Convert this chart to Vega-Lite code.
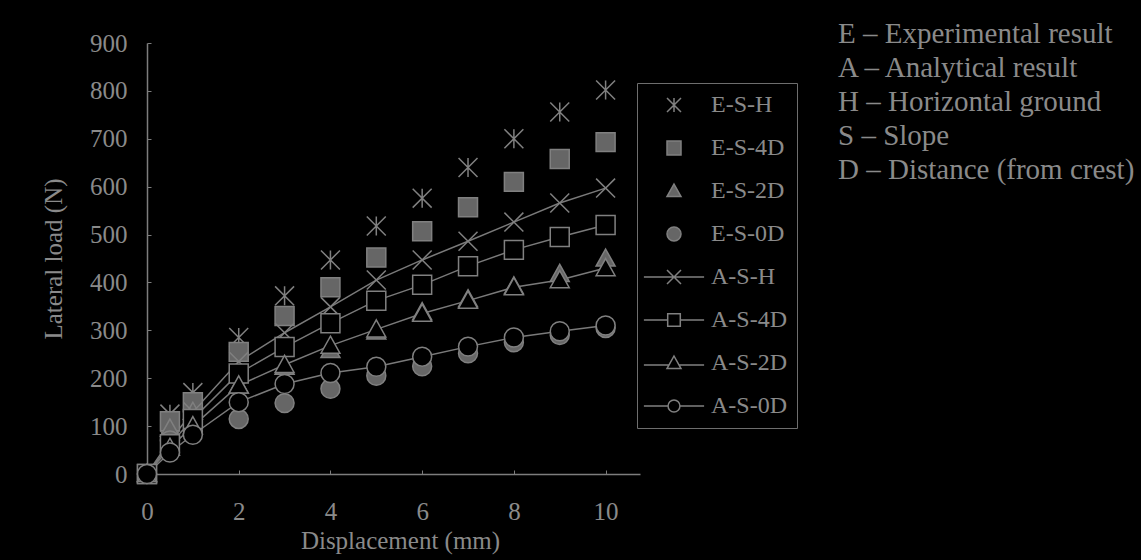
{
  "$schema": "https://vega.github.io/schema/vega-lite/v6.json",
  "autosize": "none",
  "padding": {"left": 147, "top": 43, "right": 501, "bottom": 86},
  "width": 493,
  "height": 431,
  "background": "black",
  "config": {
    "view": {"stroke": null},
    "font": "Liberation Serif",
    "legend": {
      "symbolOpacity": 1,
      "labelFont": "Liberation Serif",
      "labelFontSize": 24,
      "labelColor": "#8a8a8a",
      "symbolSize": 196,
      "symbolStrokeWidth": 1.5,
      "strokeColor": "#6e6e6e",
      "padding": 10,
      "rowPadding": 19,
      "symbolOffset": 15,
      "labelOffset": 25
    }
  },
  "title": {
    "text": [
      "E – Experimental result",
      "A – Analytical result",
      "H – Horizontal ground",
      "S – Slope",
      "D – Distance (from crest)"
    ],
    "orient": "top",
    "anchor": "start",
    "frame": "group",
    "align": "left",
    "baseline": "top",
    "offset": 0,
    "dx": 691,
    "dy": 154,
    "lineHeight": 34,
    "font": "Liberation Serif",
    "fontSize": 29,
    "fontWeight": "normal",
    "color": "#8a8a8a"
  },
  "data": {
    "values": [
      {"series": "E-S-H", "kind": "Experimental", "x": 0, "y": 0},
      {"series": "E-S-H", "kind": "Experimental", "x": 0.5, "y": 125},
      {"series": "E-S-H", "kind": "Experimental", "x": 1, "y": 170},
      {"series": "E-S-H", "kind": "Experimental", "x": 2, "y": 285},
      {"series": "E-S-H", "kind": "Experimental", "x": 3, "y": 372},
      {"series": "E-S-H", "kind": "Experimental", "x": 4, "y": 447},
      {"series": "E-S-H", "kind": "Experimental", "x": 5, "y": 518},
      {"series": "E-S-H", "kind": "Experimental", "x": 6, "y": 576},
      {"series": "E-S-H", "kind": "Experimental", "x": 7, "y": 640},
      {"series": "E-S-H", "kind": "Experimental", "x": 8, "y": 700},
      {"series": "E-S-H", "kind": "Experimental", "x": 9, "y": 756},
      {"series": "E-S-H", "kind": "Experimental", "x": 10, "y": 802},

      {"series": "E-S-4D", "kind": "Experimental", "x": 0, "y": 0},
      {"series": "E-S-4D", "kind": "Experimental", "x": 0.5, "y": 110},
      {"series": "E-S-4D", "kind": "Experimental", "x": 1, "y": 150},
      {"series": "E-S-4D", "kind": "Experimental", "x": 2, "y": 255},
      {"series": "E-S-4D", "kind": "Experimental", "x": 3, "y": 330},
      {"series": "E-S-4D", "kind": "Experimental", "x": 4, "y": 390},
      {"series": "E-S-4D", "kind": "Experimental", "x": 5, "y": 452},
      {"series": "E-S-4D", "kind": "Experimental", "x": 6, "y": 507},
      {"series": "E-S-4D", "kind": "Experimental", "x": 7, "y": 557},
      {"series": "E-S-4D", "kind": "Experimental", "x": 8, "y": 610},
      {"series": "E-S-4D", "kind": "Experimental", "x": 9, "y": 658},
      {"series": "E-S-4D", "kind": "Experimental", "x": 10, "y": 693},

      {"series": "E-S-2D", "kind": "Experimental", "x": 0, "y": 0},
      {"series": "E-S-2D", "kind": "Experimental", "x": 0.5, "y": 95},
      {"series": "E-S-2D", "kind": "Experimental", "x": 1, "y": 130},
      {"series": "E-S-2D", "kind": "Experimental", "x": 2, "y": 185},
      {"series": "E-S-2D", "kind": "Experimental", "x": 3, "y": 224},
      {"series": "E-S-2D", "kind": "Experimental", "x": 4, "y": 259},
      {"series": "E-S-2D", "kind": "Experimental", "x": 5, "y": 298},
      {"series": "E-S-2D", "kind": "Experimental", "x": 6, "y": 338},
      {"series": "E-S-2D", "kind": "Experimental", "x": 7, "y": 365},
      {"series": "E-S-2D", "kind": "Experimental", "x": 8, "y": 392},
      {"series": "E-S-2D", "kind": "Experimental", "x": 9, "y": 418},
      {"series": "E-S-2D", "kind": "Experimental", "x": 10, "y": 450},

      {"series": "E-S-0D", "kind": "Experimental", "x": 0, "y": 0},
      {"series": "E-S-0D", "kind": "Experimental", "x": 0.5, "y": 70},
      {"series": "E-S-0D", "kind": "Experimental", "x": 1, "y": 90},
      {"series": "E-S-0D", "kind": "Experimental", "x": 2, "y": 115},
      {"series": "E-S-0D", "kind": "Experimental", "x": 3, "y": 148},
      {"series": "E-S-0D", "kind": "Experimental", "x": 4, "y": 178},
      {"series": "E-S-0D", "kind": "Experimental", "x": 5, "y": 205},
      {"series": "E-S-0D", "kind": "Experimental", "x": 6, "y": 225},
      {"series": "E-S-0D", "kind": "Experimental", "x": 7, "y": 252},
      {"series": "E-S-0D", "kind": "Experimental", "x": 8, "y": 275},
      {"series": "E-S-0D", "kind": "Experimental", "x": 9, "y": 290},
      {"series": "E-S-0D", "kind": "Experimental", "x": 10, "y": 305},

      {"series": "A-S-H", "kind": "Analytical", "x": 0, "y": 0},
      {"series": "A-S-H", "kind": "Analytical", "x": 0.5, "y": 70},
      {"series": "A-S-H", "kind": "Analytical", "x": 1, "y": 130},
      {"series": "A-S-H", "kind": "Analytical", "x": 2, "y": 235},
      {"series": "A-S-H", "kind": "Analytical", "x": 3, "y": 295},
      {"series": "A-S-H", "kind": "Analytical", "x": 4, "y": 349},
      {"series": "A-S-H", "kind": "Analytical", "x": 5, "y": 405},
      {"series": "A-S-H", "kind": "Analytical", "x": 6, "y": 447},
      {"series": "A-S-H", "kind": "Analytical", "x": 7, "y": 486},
      {"series": "A-S-H", "kind": "Analytical", "x": 8, "y": 526},
      {"series": "A-S-H", "kind": "Analytical", "x": 9, "y": 566},
      {"series": "A-S-H", "kind": "Analytical", "x": 10, "y": 597},

      {"series": "A-S-4D", "kind": "Analytical", "x": 0, "y": 0},
      {"series": "A-S-4D", "kind": "Analytical", "x": 0.5, "y": 62},
      {"series": "A-S-4D", "kind": "Analytical", "x": 1, "y": 115},
      {"series": "A-S-4D", "kind": "Analytical", "x": 2, "y": 210},
      {"series": "A-S-4D", "kind": "Analytical", "x": 3, "y": 265},
      {"series": "A-S-4D", "kind": "Analytical", "x": 4, "y": 315},
      {"series": "A-S-4D", "kind": "Analytical", "x": 5, "y": 362},
      {"series": "A-S-4D", "kind": "Analytical", "x": 6, "y": 395},
      {"series": "A-S-4D", "kind": "Analytical", "x": 7, "y": 434},
      {"series": "A-S-4D", "kind": "Analytical", "x": 8, "y": 468},
      {"series": "A-S-4D", "kind": "Analytical", "x": 9, "y": 495},
      {"series": "A-S-4D", "kind": "Analytical", "x": 10, "y": 520},

      {"series": "A-S-2D", "kind": "Analytical", "x": 0, "y": 0},
      {"series": "A-S-2D", "kind": "Analytical", "x": 0.5, "y": 55},
      {"series": "A-S-2D", "kind": "Analytical", "x": 1, "y": 100},
      {"series": "A-S-2D", "kind": "Analytical", "x": 2, "y": 185},
      {"series": "A-S-2D", "kind": "Analytical", "x": 3, "y": 228},
      {"series": "A-S-2D", "kind": "Analytical", "x": 4, "y": 268},
      {"series": "A-S-2D", "kind": "Analytical", "x": 5, "y": 302},
      {"series": "A-S-2D", "kind": "Analytical", "x": 6, "y": 335},
      {"series": "A-S-2D", "kind": "Analytical", "x": 7, "y": 362},
      {"series": "A-S-2D", "kind": "Analytical", "x": 8, "y": 390},
      {"series": "A-S-2D", "kind": "Analytical", "x": 9, "y": 405},
      {"series": "A-S-2D", "kind": "Analytical", "x": 10, "y": 430},

      {"series": "A-S-0D", "kind": "Analytical", "x": 0, "y": 0},
      {"series": "A-S-0D", "kind": "Analytical", "x": 0.5, "y": 45},
      {"series": "A-S-0D", "kind": "Analytical", "x": 1, "y": 82},
      {"series": "A-S-0D", "kind": "Analytical", "x": 2, "y": 150},
      {"series": "A-S-0D", "kind": "Analytical", "x": 3, "y": 188},
      {"series": "A-S-0D", "kind": "Analytical", "x": 4, "y": 211},
      {"series": "A-S-0D", "kind": "Analytical", "x": 5, "y": 224},
      {"series": "A-S-0D", "kind": "Analytical", "x": 6, "y": 245},
      {"series": "A-S-0D", "kind": "Analytical", "x": 7, "y": 266},
      {"series": "A-S-0D", "kind": "Analytical", "x": 8, "y": 285},
      {"series": "A-S-0D", "kind": "Analytical", "x": 9, "y": 298},
      {"series": "A-S-0D", "kind": "Analytical", "x": 10, "y": 310}
    ]
  },
  "encoding": {
    "x": {
      "field": "x",
      "type": "quantitative",
      "scale": {"domain": [0, 10.75], "nice": false, "zero": true},
      "axis": {
        "title": "Displacement (mm)",
        "titleX": 253,
        "values": [0, 2, 4, 6, 8, 10],
        "grid": false,
        "domainColor": "#7d7d7d",
        "domainWidth": 1.5,
        "tickColor": "#7d7d7d",
        "tickSize": -4,
        "labelPadding": 29,
        "labelFlush": false,
        "labelOverlap": false,
        "labelFont": "Liberation Serif",
        "labelFontSize": 25,
        "labelColor": "#8a8a8a",
        "titleFont": "Liberation Serif",
        "titleFontSize": 25,
        "titleFontWeight": "normal",
        "titleColor": "#8a8a8a",
        "titlePadding": 4
      }
    },
    "y": {
      "field": "y",
      "type": "quantitative",
      "scale": {"domain": [0, 900], "nice": false},
      "axis": {
        "title": "Lateral load (N)",
        "values": [0, 100, 200, 300, 400, 500, 600, 700, 800, 900],
        "grid": false,
        "domainColor": "#7d7d7d",
        "domainWidth": 1.5,
        "tickColor": "#7d7d7d",
        "tickSize": -4,
        "labelPadding": 24,
        "labelFlush": false,
        "labelOverlap": false,
        "labelFont": "Liberation Serif",
        "labelFontSize": 25,
        "labelColor": "#8a8a8a",
        "titleFont": "Liberation Serif",
        "titleFontSize": 25,
        "titleFontWeight": "normal",
        "titleColor": "#8a8a8a",
        "titlePadding": 23
      }
    }
  },
  "layer": [
    {
      "transform": [{"filter": "datum.kind === 'Analytical'"}],
      "mark": {"type": "line", "stroke": "#7a7a7a", "strokeWidth": 1.5},
      "encoding": {"detail": {"field": "series"}}
    },
    {
      "mark": {"type": "point", "filled": true, "size": 360, "stroke": "#808080", "strokeWidth": 1.5, "opacity": 1},
      "encoding": {
        "shape": {
          "field": "series",
          "scale": {
            "domain": ["E-S-H", "E-S-4D", "E-S-2D", "E-S-0D", "A-S-H", "A-S-4D", "A-S-2D", "A-S-0D"],
            "range": [
              "M-1,-1L1,1M-1,1L1,-1M0,-1V1",
              "square",
              "M0,-1L1,0.8H-1Z",
              "circle",
              "M-1,-1L1,1M-1,1L1,-1",
              "square",
              "M0,-1L1,0.8H-1Z",
              "circle"
            ]
          },
          "legend": null
        },
        "fill": {
          "field": "series",
          "scale": {
            "domain": ["E-S-H", "E-S-4D", "E-S-2D", "E-S-0D", "A-S-H", "A-S-4D", "A-S-2D", "A-S-0D"],
            "range": ["#666666", "#666666", "#666666", "#666666", "black", "black", "black", "black"]
          },
          "legend": null
        }
      }
    },
    {
      "mark": {"type": "point", "filled": true, "opacity": 0, "stroke": "#808080", "strokeWidth": 1.5},
      "encoding": {
        "shape": {
          "field": "series",
          "scale": {
            "domain": ["E-S-H", "E-S-4D", "E-S-2D", "E-S-0D", "A-S-H", "A-S-4D", "A-S-2D", "A-S-0D"],
            "range": [
              "M-1,-1L1,1M-1,1L1,-1M0,-1V1",
              "square",
              "M0,-1L1,0.8H-1Z",
              "circle",
              "M-4.3,0H4.3M-1,-1L1,1M-1,1L1,-1",
              "M-4.3,0H-0.9M0.9,0H4.3M-0.9,-0.9H0.9V0.9H-0.9Z",
              "M-4.3,0.3H-0.75M0.75,0.3H4.3M0,-1L1,0.8H-1Z",
              "M-4.3,0H-0.85M0.85,0H4.3M0.85,0A0.85,0.85,0,1,1,-0.85,0A0.85,0.85,0,1,1,0.85,0Z"
            ]
          },
          "legend": {"title": null, "orient": "none", "legendX": 490, "legendY": 40}
        },
        "fill": {
          "field": "series",
          "scale": {
            "domain": ["E-S-H", "E-S-4D", "E-S-2D", "E-S-0D", "A-S-H", "A-S-4D", "A-S-2D", "A-S-0D"],
            "range": ["#666666", "#666666", "#666666", "#666666", "black", "black", "black", "black"]
          },
          "legend": {"title": null, "orient": "none", "legendX": 490, "legendY": 40}
        }
      }
    }
  ],
  "resolve": {"scale": {"shape": "independent", "fill": "independent"}}
}
